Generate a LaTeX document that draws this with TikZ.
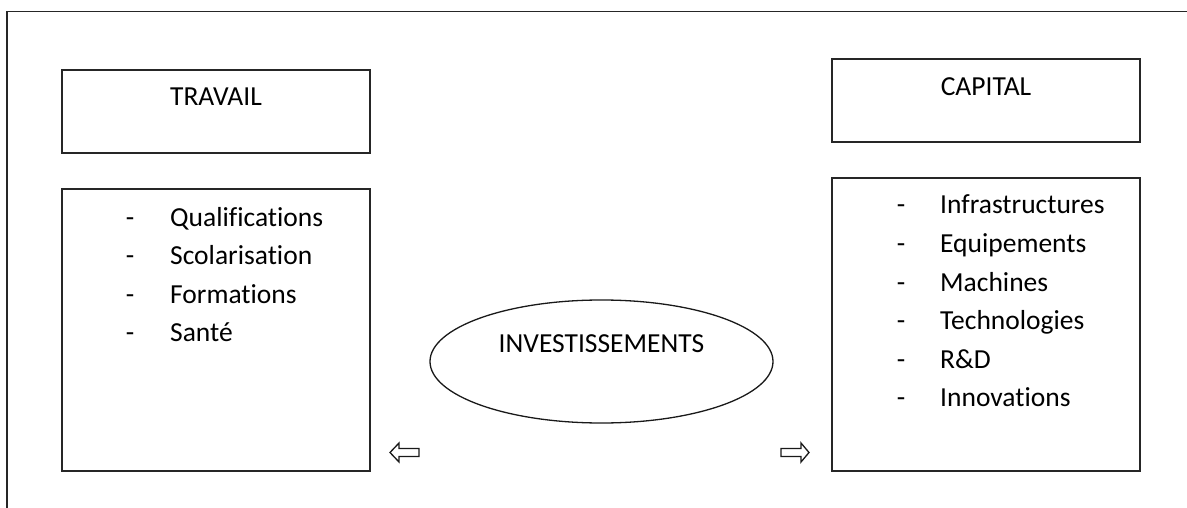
\documentclass[tikz,border=0pt]{standalone}
\usepackage{fontspec}
\setmainfont[Ligatures=NoCommon]{Carlito}
\usetikzlibrary{shapes.geometric}
\begin{document}
\begin{tikzpicture}[x=1pt,y=-1pt,
  box/.style={draw=black!85,line width=1.6pt,rectangle,minimum width=308pt,inner sep=0pt},
  txt/.style={inner sep=0pt,anchor=base west,font=\fontsize{27.5}{33}\selectfont,text=black},
  ctxt/.style={inner sep=0pt,anchor=base,font=\fontsize{27.5}{33}\selectfont,text=black},
  blockarrow/.style={draw=black!90,line width=1.3pt,line join=miter,fill=white}]
\useasboundingbox (0,0) rectangle (1187,508);
\fill[white] (0,0) rectangle (1187,508);
% outer frame (only top and left edges visible)
\draw[line width=1.1pt,black!85] (7,508) -- (7,11.5) -- (1187,11.5);
% boxes
\node[box,minimum height=83pt] (travail) at (216,111.5) {};
\node[box,minimum height=282pt] (leftlist) at (216,330) {};
\node[box,minimum height=83pt] (capital) at (986,100.5) {};
\node[box,minimum height=293pt] (rightlist) at (986,324.5) {};
\node[ctxt] (travailt) at (216,106) {TRAVAIL};
\node[ctxt] (capitalt) at (986,96) {CAPITAL};
% left list
\foreach \t [count=\i] in {Qualifications,Scolarisation,Formations,Santé}{
  \node[ctxt] (ld\i) at (130,226+38.5*\i-38.5) {-};
  \node[txt] (l\i) at (170,226+38.5*\i-38.5) {\t};
}
% right list
\foreach \t [count=\i] in {Infrastructures,Equipements,Machines,Technologies,R\&D,Innovations}{
  \node[ctxt] (rd\i) at (901,214+38.5*\i-38.5) {-};
  \node[txt] (r\i) at (940,214+38.5*\i-38.5) {\t};
}
% ellipse
\node[draw=black!90,line width=1.3pt,ellipse,minimum width=343pt,minimum height=123pt,inner sep=0pt] (inv) at (601.5,361.5) {};
\node[ctxt] (invt) at (601.5,352) {INVESTISSEMENTS};
% block arrows
\draw[blockarrow] (390,452.5) -- (399,443) -- (399,448.5) -- (419,448.5) -- (419,456.5) -- (399,456.5) -- (399,462) -- cycle;
\draw[blockarrow] (781,448.5) -- (801,448.5) -- (801,443) -- (809,452.5) -- (801,462) -- (801,456.5) -- (781,456.5) -- cycle;
\end{tikzpicture}
\end{document}
